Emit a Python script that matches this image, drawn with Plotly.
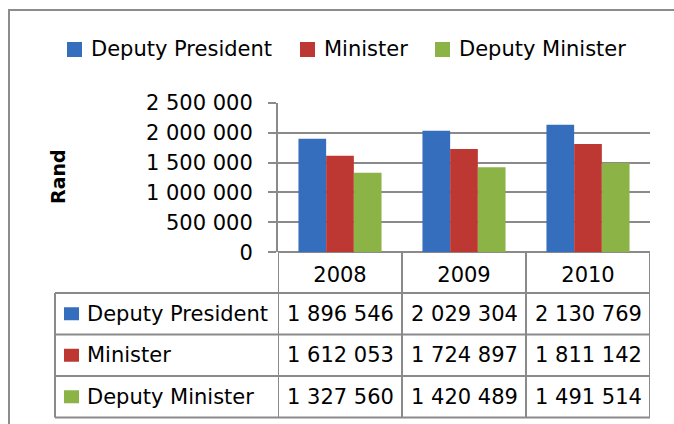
import plotly.graph_objects as go

# ---- data ----
years = ["2008", "2009", "2010"]
series_names = ["Deputy President", "Minister", "Deputy Minister"]
deputy_president = [1896546, 2029304, 2130769]
minister = [1612053, 1724897, 1811142]
deputy_minister = [1327560, 1420489, 1491514]
y_ticks = [0, 500000, 1000000, 1500000, 2000000, 2500000]

series_values = [deputy_president, minister, deputy_minister]
colors = ["#356EBC", "#BD3833", "#8BB346"]

W, H = 674, 424
FONT = "DejaVu Sans"
FS = 21
GRID = "#8a8a8a"


def px(x):
    return x / W


def py(y):
    return 1 - y / H


def fmt(v):
    return f"{v:,}".replace(",", " ")


fig = go.Figure()
for name, vals, col in zip(series_names, series_values, colors):
    fig.add_trace(go.Bar(x=years, y=vals, name=name, marker=dict(color=col, line=dict(width=0)),
                         showlegend=False))

shapes = []
annotations = []

# outer chart border
shapes.append(dict(type="rect", xref="paper", yref="paper", x0=px(9), x1=px(760), y0=py(10), y1=py(480),
                   line=dict(color="#8c8c8c", width=2), fillcolor="rgba(0,0,0,0)", layer="below"))

# legend (top)
leg_sq = [67, 300, 435]
leg_tx = [89, 322, 457]
for i, name in enumerate(series_names):
    shapes.append(dict(type="rect", xref="paper", yref="paper", x0=px(leg_sq[i]), x1=px(leg_sq[i] + 15),
                       y0=py(57), y1=py(42), fillcolor=colors[i], line=dict(width=0)))
    annotations.append(dict(text=name, xref="paper", yref="paper", x=px(leg_tx[i]), y=py(49.5),
                            xanchor="left", yanchor="middle", showarrow=False,
                            font=dict(family=FONT, size=FS, color="black")))

# data table
t_left, t_right = 55, 650
row_lines = [293, 334.5, 376, 417.5]
top_line = 252.3
for yl in row_lines:
    shapes.append(dict(type="line", xref="paper", yref="paper", x0=px(t_left), x1=px(t_right),
                       y0=py(yl), y1=py(yl), line=dict(color=GRID, width=2)))
shapes.append(dict(type="line", xref="paper", yref="paper", x0=px(t_left), x1=px(t_left),
                   y0=py(row_lines[0]), y1=py(row_lines[-1]), line=dict(color=GRID, width=2)))
for b in [-0.5, 0.5, 1.5, 2.5]:
    shapes.append(dict(type="line", xref="x", yref="paper", x0=b, x1=b,
                       y0=py(top_line), y1=py(row_lines[-1]), line=dict(color=GRID, width=2)))

for r, (name, vals, col) in enumerate(zip(series_names, series_values, colors)):
    yc = (row_lines[r] + row_lines[r + 1]) / 2
    shapes.append(dict(type="rect", xref="paper", yref="paper", x0=px(64), x1=px(79),
                       y0=py(yc + 6.5), y1=py(yc - 6.5), fillcolor=col, line=dict(width=0)))
    annotations.append(dict(text=name, xref="paper", yref="paper", x=px(85), y=py(yc),
                            xanchor="left", yanchor="middle", showarrow=False,
                            font=dict(family=FONT, size=FS, color="black")))
    for c, v in enumerate(vals):
        annotations.append(dict(text=fmt(v), xref="x", yref="paper", x=c, y=py(yc),
                                xanchor="center", yanchor="middle", showarrow=False,
                                font=dict(family=FONT, size=FS, color="black")))

# y-axis title
annotations.append(dict(text="<b>Rand</b>", xref="paper", yref="paper", x=px(58), y=py(177),
                        textangle=-90, showarrow=False, xanchor="center", yanchor="middle",
                        font=dict(family=FONT, size=19, color="black")))

fig.update_layout(
    width=W, height=H,
    margin=dict(l=0, r=0, t=0, b=0, autoexpand=False),
    paper_bgcolor="white", plot_bgcolor="white",
    barmode="group", bargap=0.33, bargroupgap=0,
    separators=". ",
    showlegend=False,
    font=dict(family=FONT, size=FS, color="black"),
    shapes=shapes, annotations=annotations,
    xaxis=dict(domain=[px(278), px(650)], type="category", range=[-0.5, 2.5], autorange=False,
               automargin=False, showgrid=False, zeroline=False,
               showline=False, ticks="", tickfont=dict(family=FONT, size=FS, color="black"),
               ticklabelstandoff=8),
    yaxis=dict(domain=[py(252.3), py(102.7)], range=[0, 2500000], autorange=False, tickvals=y_ticks,
               automargin=False,
               tickformat=",d", showgrid=True, gridcolor=GRID, gridwidth=2,
               zeroline=True, zerolinecolor=GRID, zerolinewidth=2,
               showline=True, linecolor=GRID, linewidth=2,
               ticks="outside", ticklen=8, tickwidth=2, tickcolor=GRID,
               ticklabelstandoff=11,
               tickfont=dict(family=FONT, size=FS, color="black")),
)

fig.write_html("out.html", config={"displayModeBar": False},
               post_script="document.body.style.margin='0px';document.body.style.overflow='hidden';")
